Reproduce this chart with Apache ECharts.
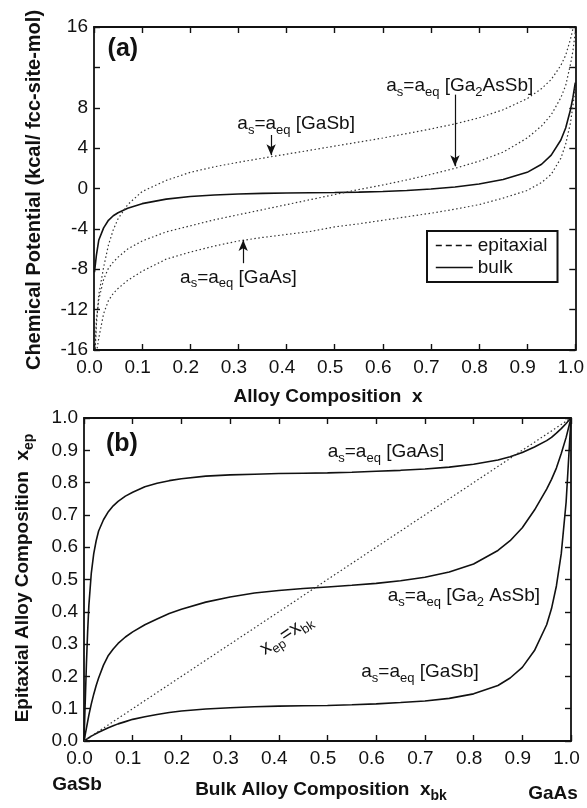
<!DOCTYPE html>
<html><head><meta charset="utf-8">
<script src="https://cdn.jsdelivr.net/npm/echarts/dist/echarts.min.js"></script>
<style>html,body{margin:0;padding:0;background:#fff}#c{width:587px;height:808px}</style>
</head><body><div id="c"></div>
<script>
// ---------- Panel (a): chemical potential vs alloy composition ----------
const compA = [0.001,0.005,0.01,0.02,0.03,0.04,0.05,0.07,0.1,0.15,0.2,0.25,0.3,0.35,0.4,0.45,0.5,0.55,0.6,0.65,0.7,0.75,0.8,0.85,0.9,0.93,0.95,0.97,0.98,0.99,0.995,1.0];
const bulkA = [-8.3,-6.6,-5.1,-3.9,-3.15,-2.7,-2.4,-1.95,-1.5,-1.05,-0.8,-0.65,-0.55,-0.48,-0.44,-0.42,-0.4,-0.36,-0.3,-0.2,-0.05,0.15,0.45,0.9,1.6,2.4,3.3,4.8,6.0,7.8,9.0,10.5];
const epiGaSbA = [-17.5,-13.5,-10.5,-7.8,-5.6,-4.1,-3.0,-1.6,-0.3,0.8,1.6,2.15,2.6,3.0,3.4,3.8,4.2,4.6,5.0,5.45,5.9,6.4,7.0,7.8,8.9,9.9,10.8,12.2,13.2,14.8,15.8,17.5];
const epiGa2AsSbA = [-17,-13,-11,-9.0,-7.9,-7.3,-6.8,-6.0,-5.2,-4.3,-3.7,-3.1,-2.6,-2.1,-1.6,-1.1,-0.6,-0.1,0.35,0.85,1.4,2.0,2.7,3.6,5.0,6.2,7.3,9.0,10.2,12.3,13.6,15.5];
const epiGaAsA = [-19,-16.3,-14.8,-12.4,-11.1,-10.4,-9.9,-9.1,-8.2,-7.0,-6.3,-5.7,-5.2,-4.85,-4.55,-4.25,-3.8,-3.5,-3.15,-2.8,-2.45,-2.05,-1.6,-0.95,-0.2,0.6,1.4,3.0,4.4,6.5,8.2,10.0];
const yTicksA = [-16,-12,-8,-4,0,4,8,12,16];
const hiddenTickA = 12;

// ---------- Panel (b): epitaxial vs bulk composition ----------
const compB = [0,0.0025,0.005,0.0075,0.01,0.015,0.02,0.025,0.03,0.04,0.05,0.06,0.07,0.085,0.1,0.125,0.15,0.175,0.2,0.25,0.3,0.35,0.4,0.45,0.5,0.55,0.6,0.65,0.7,0.75,0.8,0.85,0.875,0.9,0.925,0.95,0.96,0.97,0.98,0.99,1.0];
const xepGaAs = [0,0.12,0.24,0.34,0.42,0.52,0.58,0.62,0.65,0.685,0.71,0.728,0.742,0.758,0.77,0.787,0.798,0.806,0.812,0.82,0.824,0.826,0.828,0.829,0.83,0.832,0.835,0.838,0.842,0.848,0.857,0.87,0.88,0.893,0.91,0.93,0.94,0.953,0.967,0.983,1.0];
const xepGa2AsSb = [0,0.02,0.04,0.06,0.08,0.115,0.145,0.172,0.195,0.235,0.265,0.285,0.302,0.322,0.338,0.36,0.378,0.395,0.408,0.43,0.446,0.458,0.466,0.472,0.477,0.482,0.488,0.496,0.507,0.523,0.548,0.59,0.62,0.66,0.715,0.78,0.81,0.845,0.89,0.94,1.0];
const xepGaSb = [0,0.0025,0.005,0.0075,0.01,0.015,0.019,0.023,0.027,0.034,0.041,0.047,0.053,0.06,0.067,0.075,0.082,0.088,0.093,0.099,0.103,0.106,0.108,0.109,0.11,0.112,0.115,0.119,0.124,0.132,0.146,0.172,0.195,0.228,0.28,0.36,0.41,0.48,0.58,0.74,1.0];
const diagX = [0,1];
const diagY = [0,1];

const zip = (xs, ys) => xs.map((x, i) => [x, ys[i]]);
const FONT = "'Liberation Sans', Arial, Helvetica, sans-serif";
const INK = '#111';

function xAx(grid, pos, labels) {
  return {
    gridIndex: grid, type: 'value', min: 0, max: 1, interval: 0.1, position: pos,
    axisLine: { onZero: false, lineStyle: { color: INK, width: 1.8 } },
    axisTick: { inside: true, length: 6, lineStyle: { color: INK, width: 1.4 } },
    axisLabel: labels ? { show: true, fontSize: 19, fontFamily: FONT, color: INK, margin: 8,
      padding: [0, 9, 0, 0], formatter: v => v.toFixed(1) } : { show: false },
    splitLine: { show: false }
  };
}
function yAx(grid, pos, min, max, interval, fmt) {
  return {
    gridIndex: grid, type: 'value', min: min, max: max, interval: interval, position: pos,
    axisLine: { onZero: false, lineStyle: { color: INK, width: 1.8 } },
    axisTick: { inside: true, length: 6, lineStyle: { color: INK, width: 1.4 } },
    axisLabel: fmt ? { show: true, fontSize: 19, fontFamily: FONT, color: INK, margin: 6, formatter: fmt } : { show: false },
    splitLine: { show: false }
  };
}

const dotted = { color: '#333', width: 1.2, type: [1.5, 2.5] };
const solid = { color: INK, width: 1.6, type: 'solid' };
function line(name, xi, yi, data, style) {
  return { name, type: 'line', xAxisIndex: xi, yAxisIndex: yi, data, showSymbol: false, symbol: 'none',
    smooth: false, lineStyle: style, itemStyle: { color: INK }, clip: true, z: 3 };
}

const chart = echarts.init(document.getElementById('c'), null, { renderer: 'canvas' });
const arrowStyle = { silent: true, symbol: ['none', 'arrow'], symbolSize: [7, 11],
  lineStyle: { color: INK, width: 1.2, type: 'solid' }, label: { show: false }, animation: false };

const option = {
  animation: false,
  backgroundColor: '#fff',
  textStyle: { fontFamily: FONT },
  grid: [
    { left: 94, top: 27, width: 486, height: 323 },
    { left: 84, top: 418, width: 487, height: 323 }
  ],
  xAxis: [xAx(0, 'bottom', true), xAx(0, 'top', false), xAx(1, 'bottom', true), xAx(1, 'top', false)],
  yAxis: [
    yAx(0, 'left', -16, 16, 4, v => (v === hiddenTickA ? '' : String(v))),
    yAx(0, 'right', -16, 16, 4, null),
    yAx(1, 'left', 0, 1, 0.1, v => v.toFixed(1)),
    yAx(1, 'right', 0, 1, 0.1, null)
  ],
  legend: {
    show: true, orient: 'vertical', left: 427, top: 231,
    borderColor: INK, borderWidth: 2, padding: [5, 10, 5, 8], itemGap: 3,
    itemWidth: 37, itemHeight: 14, backgroundColor: '#fff',
    itemStyle: { color: 'rgba(0,0,0,0)', borderWidth: 0, opacity: 0 },
    textStyle: { fontSize: 19, fontFamily: FONT, color: INK },
    data: [
      { name: 'epitaxial', itemStyle: { opacity: 0 }, lineStyle: { color: INK, width: 1.6, type: [6, 4] } },
      { name: 'bulk', itemStyle: { opacity: 0 }, lineStyle: { color: INK, width: 1.6, type: 'solid' } }
    ]
  },
  series: [
    Object.assign(line('bulk', 0, 0, zip(compA, bulkA), solid), {
      markLine: Object.assign({}, arrowStyle, { data: [
        [{ coord: [0.368, 5.3] }, { coord: [0.368, 3.3] }],
        [{ coord: [0.75, 9.3] }, { coord: [0.75, 2.2] }],
        [{ coord: [0.31, -7.4] }, { coord: [0.31, -5.1] }]
      ] })
    }),
    line('epitaxial', 0, 0, zip(compA, epiGaSbA), dotted),
    line('epitaxial', 0, 0, zip(compA, epiGa2AsSbA), dotted),
    line('epitaxial', 0, 0, zip(compA, epiGaAsA), dotted),
    line('xep GaAs', 2, 2, zip(compB, xepGaAs), solid),
    line('xep Ga2AsSb', 2, 2, zip(compB, xepGa2AsSb), solid),
    line('xep GaSb', 2, 2, zip(compB, xepGaSb), solid),
    line('diagonal', 2, 2, zip(diagX, diagY), dotted)
  ]
};
chart.setOption(option);

// ---------- annotations (placed through the axes' own scales) ----------
const pA = (x, y) => chart.convertToPixel({ xAxisIndex: 0, yAxisIndex: 0 }, [x, y]);
const pB = (x, y) => chart.convertToPixel({ xAxisIndex: 2, yAxisIndex: 2 }, [x, y]);
const richN = {
  n: { fontSize: 19, fontFamily: FONT, fill: INK },
  s: { fontSize: 13, fontFamily: FONT, fill: INK, padding: [13, 0, 0, 0] },
  b: { fontSize: 19, fontFamily: FONT, fontWeight: 'bold', fill: INK },
  bs: { fontSize: 14, fontFamily: FONT, fontWeight: 'bold', fill: INK, padding: [13, 0, 0, 0] }
};
function txt(pt, text, opts) {
  opts = opts || {};
  return {
    type: 'text', x: pt[0], y: pt[1], rotation: opts.rot || 0, z: 10, silent: true,
    style: { text: text, rich: richN, align: 'center', verticalAlign: 'middle',
      textAlign: 'center', textVerticalAlign: 'middle',
      fontSize: opts.size || 19, fontFamily: FONT, fontWeight: opts.bold ? 'bold' : 'normal', fill: INK }
  };
}
const AS = '{n|a}{s|s}{n|=a}{s|eq}';
const graphics = [
  txt(pA(0.06, 13.8), '(a)', { bold: true, size: 25 }),
  txt(pA(0.42, 6.4), AS + '{n| [GaSb]}'),
  txt(pA(0.76, 10.2), AS + '{n| [Ga}{s|2}{n|AsSb]}'),
  txt(pA(0.30, -8.8), AS + '{n| [GaAs]}'),
  txt(pB(0.078, 0.92), '(b)', { bold: true, size: 25 }),
  txt(pB(0.62, 0.895), AS + '{n| [GaAs]}'),
  txt(pB(0.78, 0.45), AS + '{n| [Ga}{s|2}{n| AsSb]}'),
  txt(pB(0.69, 0.215), AS + '{n| [GaSb]}'),
  txt(pB(0.415, 0.33), '{n|x}{s|ep}{n|=x}{s|bk}', { rot: 33.6 * Math.PI / 180 }),
  txt([34, 190], 'Chemical Potential (kcal/ fcc-site-mol)', { bold: true, rot: Math.PI / 2, size: 20 }),
  txt([328, 397], 'Alloy Composition  x', { bold: true }),
  txt([23, 578], '{b|Epitaxial Alloy Composition  x}{bs|ep}', { bold: true, rot: Math.PI / 2 }),
  txt([321, 790], '{b|Bulk Alloy Composition  x}{bs|bk}', { bold: true }),
  txt([77, 785], 'GaSb', { bold: true }),
  txt([553, 794], 'GaAs', { bold: true })
];
chart.setOption({ graphic: { elements: graphics } });
</script>
</body></html>
